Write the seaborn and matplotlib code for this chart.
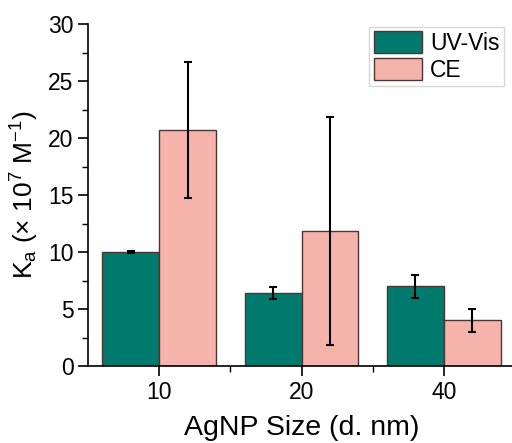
import matplotlib
matplotlib.use("Agg")
import matplotlib.pyplot as plt
import seaborn as sns
import pandas as pd
import numpy as np
from matplotlib.ticker import MultipleLocator, FixedLocator

sizes = ["10", "20", "40"]
methods = ["UV-Vis", "CE"]
uv_values = [10.0, 6.4, 7.0]
uv_errors = [0.1, 0.5, 1.0]
ce_values = [20.7, 11.8, 4.0]
ce_errors = [6.0, 10.0, 1.0]

df = pd.DataFrame({
    "size": sizes * 2,
    "method": [methods[0]] * 3 + [methods[1]] * 3,
    "ka": uv_values + ce_values,
    "err": uv_errors + ce_errors,
})

sns.set_theme(style="ticks")
plt.rcParams["font.family"] = ["Liberation Sans", "DejaVu Sans"]
plt.rcParams["mathtext.fontset"] = "custom"
plt.rcParams["mathtext.rm"] = "Liberation Sans"
plt.rcParams["mathtext.it"] = "Liberation Sans:italic"
for k in ["text.color", "axes.labelcolor", "xtick.color", "ytick.color", "axes.edgecolor"]:
    plt.rcParams[k] = "black"

fig = plt.figure(figsize=(5.12, 4.43), dpi=100)
ax = fig.add_axes([88 / 512, (443 - 366) / 443, 427 / 512, 342 / 443])

palette = {"UV-Vis": "#007A6C", "CE": "#F6B3AB"}
sns.barplot(data=df, x="size", y="ka", hue="method", order=sizes,
            hue_order=methods, palette=palette, errorbar=None,
            edgecolor="#4a3535", linewidth=1.0, saturation=1.0, ax=ax)

for container, meth in zip(ax.containers, methods):
    sub = df[df["method"] == meth].set_index("size").loc[sizes]
    xs = [p.get_x() + p.get_width() / 2 for p in container.patches]
    ax.errorbar(xs, sub["ka"].values, yerr=sub["err"].values, fmt="none",
                ecolor="black", elinewidth=1.5, capsize=2.8, capthick=1.5)

ax.set_xlim(-0.5, 2.5)
ax.set_ylim(0, 30)
ax.yaxis.set_major_locator(MultipleLocator(5))
ax.yaxis.set_minor_locator(MultipleLocator(2.5))
ax.xaxis.set_minor_locator(FixedLocator([0.5, 1.5]))
ax.tick_params(axis="both", which="major", length=7, width=1.2, labelsize=16.5,
               color="black", labelcolor="black")
ax.tick_params(axis="both", which="minor", length=4, width=1.0, color="black")
for s in ["left", "bottom"]:
    ax.spines[s].set_linewidth(1.2)
    ax.spines[s].set_color("black")
sns.despine(ax=ax)

ax.set_xlabel("AgNP Size (d. nm)", fontsize=20.5, labelpad=8, color="black")
ax.set_ylabel(r"K$_{\mathrm{a}}$ (× 10$^{7}$ M$^{-1}$)", fontsize=19, labelpad=5,
              color="black")

leg = ax.legend(loc="upper right", bbox_to_anchor=(0.985, 1.005), fontsize=16.5,
                frameon=True, fancybox=False, edgecolor="#cccccc",
                handlelength=2.1, handleheight=1.05, handletextpad=0.35,
                borderpad=0.2, labelspacing=0.15, borderaxespad=0.2)
leg.get_frame().set_linewidth(1.0)
for t in leg.get_texts():
    t.set_color("black")

fig.savefig("out.png", dpi=100)
